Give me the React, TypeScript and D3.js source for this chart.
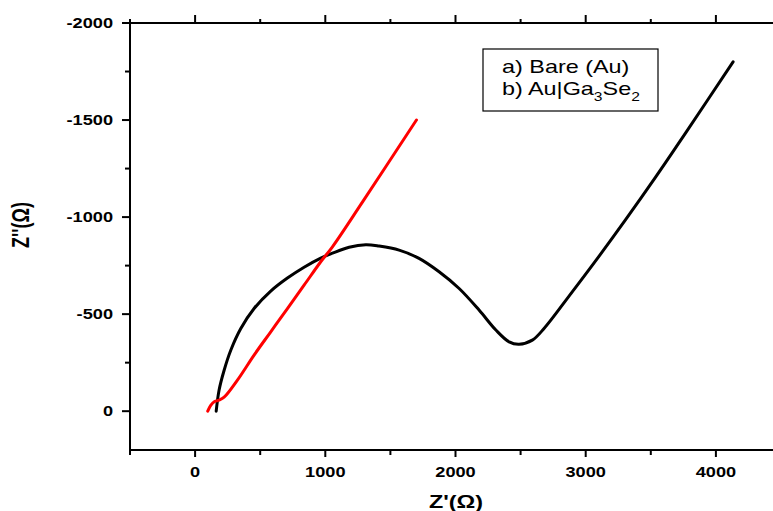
import React from "react";
import * as d3 from "d3";

const bareZre = [162, 184, 223, 274, 351, 453, 581, 709, 837, 965, 1055, 1183, 1311, 1413, 1567, 1720, 1874, 2028, 2181, 2310, 2412, 2488, 2590, 2680, 2898, 3103, 3308, 3538, 3769, 4132];
const bareZim = [0, -108, -211, -314, -426, -529, -619, -686, -742, -789, -814, -845, -858, -851, -830, -787, -718, -632, -521, -418, -357, -345, -366, -426, -616, -799, -988, -1207, -1435, -1800];

const gaZre = [97, 120, 150, 184, 223, 325, 453, 581, 709, 837, 965, 1055, 1285, 1700];
const gaZim = [0, -30, -50, -57, -72, -160, -289, -409, -529, -649, -770, -847, -1077, -1500];

const xMajor = [0, 1000, 2000, 3000, 4000];
const xMinor = [-500, 500, 1500, 2500, 3500, 4500];
const yMajor = [-2000, -1500, -1000, -500, 0];
const yMinor = [-1750, -1250, -750, -250];

const legendA = "a) Bare (Au)";

const W = 773;
const H = 511;
const SX = 1.3;

export default function App() {
  const x = d3.scaleLinear().domain([-500, 4500]).range([130, 781]);
  const y = d3.scaleLinear().domain([-2000, 200]).range([23, 450]);
  const line = d3
    .line<[number, number]>()
    .x((d) => x(d[0]))
    .y((d) => y(d[1]))
    .curve(d3.curveCatmullRom.alpha(0.5));
  const bare: [number, number][] = bareZre.map((v, i) => [v, bareZim[i]]);
  const ga: [number, number][] = gaZre.map((v, i) => [v, gaZim[i]]);
  const font = "Arial, 'Liberation Sans', sans-serif";
  const left = x(-500);
  const top = y(-2000);
  const bottom = y(200);
  return (
    <svg
      width={W}
      height={H}
      style={{ position: "absolute", left: 0, top: 0, background: "#fff" }}
      fontFamily={font}
    >
      <rect x={0} y={0} width={W} height={H} fill="#fff" />
      {/* curves */}
      <path d={line(bare) || ""} fill="none" stroke="#000" strokeWidth={3} strokeLinecap="round" strokeLinejoin="round" />
      <path d={line(ga) || ""} fill="none" stroke="#ff0000" strokeWidth={3} strokeLinecap="round" strokeLinejoin="round" />
      {/* axes */}
      <line x1={left} x2={W} y1={bottom} y2={bottom} stroke="#000" strokeWidth={2} />
      <line x1={left} x2={W} y1={top} y2={top} stroke="#000" strokeWidth={2} />
      <line x1={left} x2={left} y1={top - 1} y2={bottom + 1} stroke="#000" strokeWidth={2} />
      {xMajor.map((v) => (
        <g key={"xm" + v}>
          <line x1={x(v)} x2={x(v)} y1={bottom} y2={bottom + 7} stroke="#000" strokeWidth={2} />
          <line x1={x(v)} x2={x(v)} y1={top} y2={top - 8} stroke="#000" strokeWidth={2} />
          <text
            transform={`translate(${x(v)},${bottom + 27}) scale(${SX},1)`}
            textAnchor="middle"
            fontSize={14}
            fontWeight="bold"
          >
            {v}
          </text>
        </g>
      ))}
      {xMinor.map((v) => (
        <g key={"xn" + v}>
          <line x1={x(v)} x2={x(v)} y1={bottom} y2={bottom + 5} stroke="#000" strokeWidth={2} />
          <line x1={x(v)} x2={x(v)} y1={top} y2={top - 4} stroke="#000" strokeWidth={2} />
        </g>
      ))}
      {yMajor.map((v) => (
        <g key={"ym" + v}>
          <line x1={left} x2={left - 8} y1={y(v)} y2={y(v)} stroke="#000" strokeWidth={2} />
          <text
            transform={`translate(${left - 17},${y(v) + 5}) scale(${SX},1)`}
            textAnchor="end"
            fontSize={14}
            fontWeight="bold"
          >
            {v}
          </text>
        </g>
      ))}
      {yMinor.map((v) => (
        <line key={"yn" + v} x1={left} x2={left - 5} y1={y(v)} y2={y(v)} stroke="#000" strokeWidth={2} />
      ))}
      {/* axis titles */}
      <text
        transform={`translate(456,508) scale(${SX},1)`}
        textAnchor="middle"
        fontSize={18}
        fontWeight="bold"
      >
        Z'(Ω)
      </text>
      <text
        transform={`translate(29,225) rotate(-90) scale(1,${SX})`}
        textAnchor="middle"
        fontSize={18}
        fontWeight="bold"
      >
        Z''(Ω)
      </text>
      {/* legend */}
      <rect x={483} y={49} width={175} height={62} fill="#fff" stroke="#000" strokeWidth={1.2} />
      <text transform={`translate(502,73) scale(${SX},1)`} fontSize={18}>
        {legendA}
      </text>
      <text transform={`translate(502,95) scale(${SX},1)`} fontSize={18}>
        b) Au|Ga
        <tspan dy={6} fontSize={12}>3</tspan>
        <tspan dy={-6}>Se</tspan>
        <tspan dy={6} fontSize={12}>2</tspan>
      </text>
    </svg>
  );
}
